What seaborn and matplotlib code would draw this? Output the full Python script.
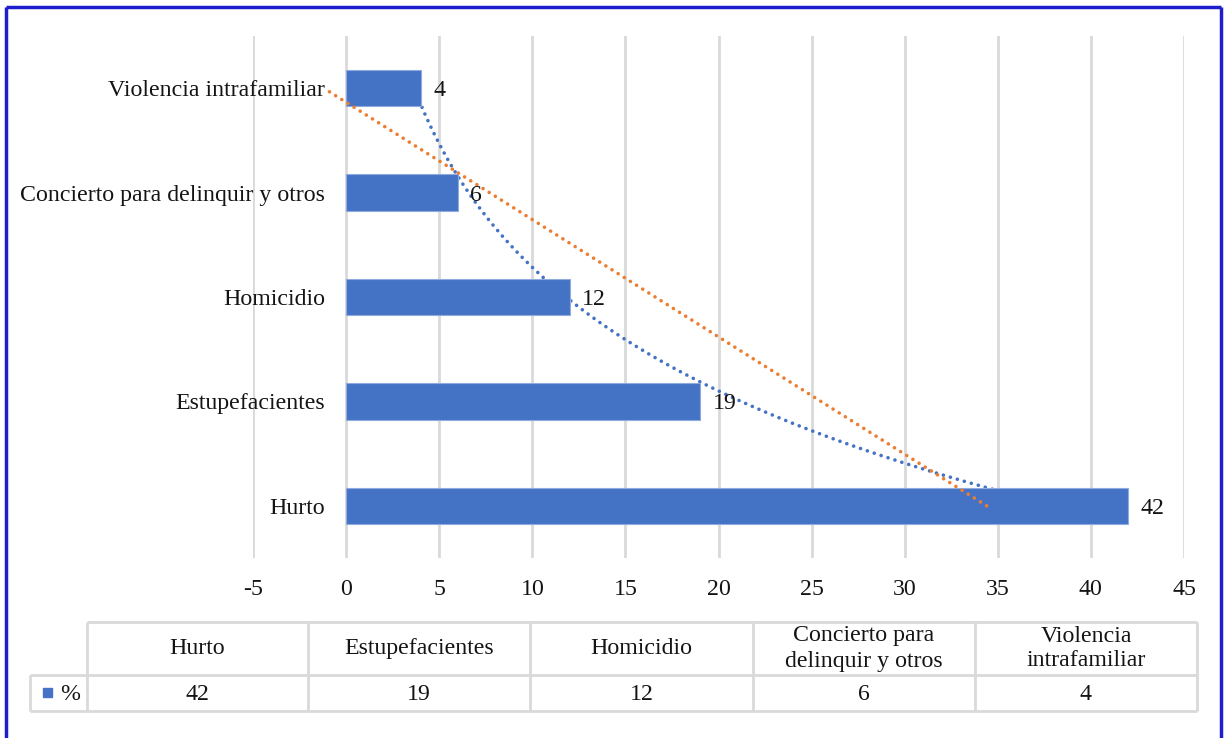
import numpy as np
import pandas as pd
import matplotlib
matplotlib.use("Agg")
import matplotlib.pyplot as plt
import seaborn as sns
from matplotlib.lines import Line2D
from matplotlib.patches import Rectangle

# data (table order, as in the source chart)
categories = ["Hurto", "Estupefacientes", "Homicidio",
              "Concierto para delinquir y otros", "Violencia intrafamiliar"]
table_headers = ["Hurto", "Estupefacientes", "Homicidio",
                 "Concierto para\ndelinquir y otros", "Violencia\nintrafamiliar"]
percent = [42, 19, 12, 6, 4]
series_name = "%"
x_ticks = [-5, 0, 5, 10, 15, 20, 25, 30, 35, 40, 45]

BAR = "#4472C4"
ORANGE = "#ED7D31"
GRID = "#D9D9D9"
TXT = "#141414"

sns.set_theme(style="white")
plt.rcParams["font.family"] = ["Liberation Serif", "DejaVu Serif"]
FS = 17.2

df = pd.DataFrame({"cat": categories, "val": percent})
order = categories[::-1]  # Violencia at top

fig = plt.figure(figsize=(12.25, 7.38), dpi=100)
ax = fig.add_axes([253 / 1225, 1 - 558 / 738, (1184 - 253) / 1225, (558 - 36) / 738])

sns.barplot(data=df, x="val", y="cat", order=order, orient="h", width=0.35,
            color=BAR, saturation=1, ax=ax, zorder=2)
for p in ax.patches:
    p.set_edgecolor("#8FAADC")
    p.set_linewidth(0.8)
    p.set_zorder(2)

# trendlines (Excel style: category index 1..5 = Hurto..Violencia)
xi = np.arange(1, len(percent) + 1)
yv = np.array(percent, dtype=float)
xs = np.linspace(1, len(percent), 200)
ypos = len(percent) - xs  # seaborn position of category index

b_exp, a_exp = np.polyfit(xi, np.log(yv), 1)
ax.plot(np.exp(a_exp + b_exp * xs), ypos, color=BAR, lw=2.6,
        linestyle=(0, (0.01, 2.0)), dash_capstyle="round", zorder=1)
b_lin, a_lin = np.polyfit(xi, yv, 1)
ax.plot(a_lin + b_lin * xs, ypos, color=ORANGE, lw=2.6,
        linestyle=(0, (0.01, 2.0)), dash_capstyle="round", zorder=3)

# value labels
for c, v in zip(categories, percent):
    ax.annotate(f"{v}", (v, order.index(c)), xytext=(9, 0), textcoords="offset points",
                ha="left", va="center_baseline", fontsize=FS, color=TXT, zorder=5)

ax.set_xlim(-5, 45)
ax.set_ylim(len(order) - 0.5, -0.5)
ax.set_xticks(x_ticks)
ax.set_xticklabels([str(t) for t in x_ticks], fontsize=FS, color=TXT)
ax.tick_params(axis="x", length=0, pad=15)
ax.tick_params(axis="y", length=0, pad=15, labelsize=FS, labelcolor=TXT)
ax.spines["left"].set_position(("data", 0))
for s in ax.spines.values():
    s.set_visible(False)
ax.grid(axis="x", color=GRID, lw=2, zorder=0)
ax.grid(axis="y", visible=False)
ax.set_axisbelow(True)
ax.set_xlabel("")
ax.set_ylabel("")

# data table below the chart (pixel overlay)
ov = fig.add_axes([0, 0, 1, 1], zorder=-1)
ov.set_xlim(0, 1225)
ov.set_ylim(738, 0)
ov.axis("off")
col_x = [87, 308, 530, 753, 975, 1197]
row_y = [622, 675, 711]
lk = dict(color=GRID, lw=2, solid_capstyle="butt")
ov.add_line(Line2D([col_x[0], col_x[-1]], [row_y[0]] * 2, **lk))
ov.add_line(Line2D([30, col_x[-1]], [row_y[1]] * 2, **lk))
ov.add_line(Line2D([30, col_x[-1]], [row_y[2]] * 2, **lk))
ov.add_line(Line2D([30, 30], [row_y[1], row_y[2]], **lk))
for x in col_x:
    ov.add_line(Line2D([x, x], [row_y[0], row_y[2]], **lk))
for i, (h, v) in enumerate(zip(table_headers, percent)):
    cx = (col_x[i] + col_x[i + 1]) / 2
    ov.text(cx, (row_y[0] + row_y[1]) / 2, h, ha="center", va="center",
            fontsize=FS, color=TXT, linespacing=1.25)
    ov.text(cx, (row_y[1] + row_y[2]) / 2 + 1, f"{v}", ha="center", va="center",
            fontsize=FS, color=TXT)
ov.add_patch(Rectangle((43, 688), 9, 9, color=BAR))
ov.text(60, (row_y[1] + row_y[2]) / 2 + 1, series_name, ha="left", va="center",
        fontsize=FS, color=TXT)

# blue frame around the chart
bk = dict(color="#1E1ECC", lw=2.5, solid_capstyle="butt")
ov.add_line(Line2D([6, 6], [7, 738], **bk))
ov.add_line(Line2D([6, 1221], [7, 7], **bk))
ov.add_line(Line2D([1221, 1221], [7, 738], **bk))

fig.savefig("out.png", dpi=100)
